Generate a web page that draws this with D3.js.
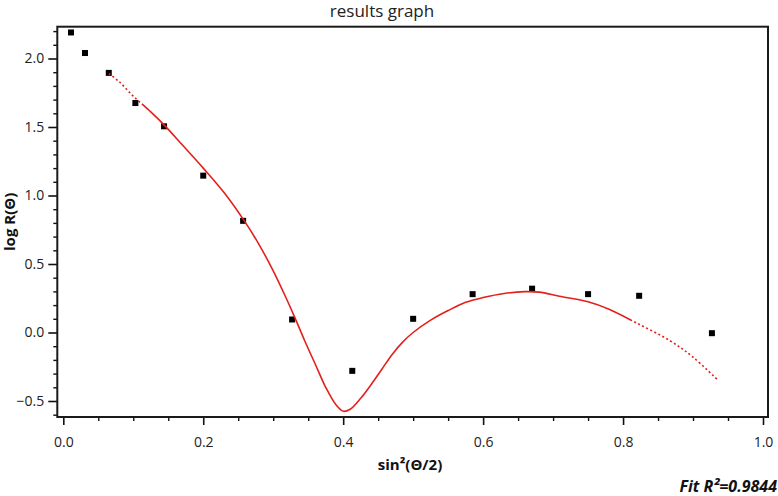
<!DOCTYPE html>
<html><head><meta charset="utf-8">
<script src="https://cdn.jsdelivr.net/npm/d3@7"></script>
<style>
html,body{margin:0;padding:0;background:#fff;}
svg{display:block;font-family:"Open Sans","Noto Sans",sans-serif;}
</style></head>
<body><svg id="chart" width="778" height="496"></svg>
<script>
// Data
const pointX = [0.011,0.031,0.065,0.103,0.144,0.200,0.257,0.327,0.413,0.500,0.585,0.670,0.750,0.823,0.927];
const pointY = [2.19,2.04,1.895,1.675,1.505,1.145,0.815,0.095,-0.28,0.10,0.28,0.32,0.28,0.268,-0.005];
const fitX = [0.065,0.08,0.10,0.125,0.145,0.17,0.20,0.23,0.258,0.28,0.30,0.315,0.33,0.345,0.36,0.375,0.39,0.40,0.41,0.425,0.44,0.455,0.47,0.485,0.50,0.525,0.55,0.575,0.60,0.63,0.66,0.68,0.709,0.75,0.78,0.819,0.867,0.90,0.936];
const fitY = [1.89,1.83,1.725,1.61,1.51,1.37,1.20,1.02,0.82,0.64,0.45,0.29,0.12,-0.06,-0.23,-0.40,-0.53,-0.575,-0.56,-0.48,-0.38,-0.27,-0.16,-0.07,0.0,0.09,0.16,0.22,0.255,0.285,0.298,0.295,0.265,0.225,0.17,0.07,-0.06,-0.18,-0.35];
const xTicks = [0.0,0.2,0.4,0.6,0.8,1.0];
const yTicks = [-0.5,0.0,0.5,1.0,1.5,2.0];
const titleText = "results graph";
const xLabelText = "sin²(Θ/2)";
const yLabelText = "log R(Θ)";
const fitText = "Fit R²=0.9844";

const svg = d3.select("#chart");
const L = 57.3, R = 768, T = 26.7, B = 417;
const x = d3.scaleLinear().domain([0,1]).range([63.3,763]);
const y = d3.scaleLinear().domain([-0.5,2.0]).range([401,58.5]);

// minor ticks
const xMinor = d3.range(0,1.0001,0.05).filter(v=>Math.abs(v/0.2-Math.round(v/0.2))>1e-6);
const yMinor = d3.range(-0.6,2.2501,0.1).filter(v=>Math.abs(v/0.5-Math.round(v/0.5))>1e-6 && y(v)>=T && y(v)<=B);

const ax = svg.append("g").attr("transform",`translate(0,${B})`)
  .call(d3.axisBottom(x).tickValues(xTicks).tickFormat(d3.format(".1f")).tickSize(8).tickPadding(12));
ax.select(".domain").remove();
ax.selectAll("line").attr("stroke","#111").attr("stroke-width",1.6);
ax.selectAll("text").attr("font-size",14).attr("fill","#222").attr("font-family","'Open Sans',sans-serif");
const axm = svg.append("g").attr("transform",`translate(0,${B})`)
  .call(d3.axisBottom(x).tickValues(xMinor).tickFormat("").tickSize(4));
axm.select(".domain").remove();
axm.selectAll("line").attr("stroke","#111").attr("stroke-width",1.4);

const ay = svg.append("g").attr("transform",`translate(${L},0)`)
  .call(d3.axisLeft(y).tickValues(yTicks).tickFormat(d3.format(".1f")).tickSize(9).tickPadding(4));
ay.select(".domain").remove();
ay.selectAll("line").attr("stroke","#111").attr("stroke-width",1.6);
ay.selectAll("text").attr("font-size",14).attr("fill","#222").attr("font-family","'Open Sans',sans-serif");
const aym = svg.append("g").attr("transform",`translate(${L},0)`)
  .call(d3.axisLeft(y).tickValues(yMinor).tickFormat("").tickSize(4));
aym.select(".domain").remove();
aym.selectAll("line").attr("stroke","#111").attr("stroke-width",1.4);

// frame
svg.append("rect").attr("x",L).attr("y",T).attr("width",R-L).attr("height",B-T)
  .attr("fill","none").attr("stroke","#1a1a1a").attr("stroke-width",2);

// points
const pts = pointX.map((v,i)=>[v,pointY[i]]);
svg.append("g").selectAll("rect").data(pts).join("rect")
  .attr("x",d=>x(d[0])-3).attr("y",d=>y(d[1])-3).attr("width",6).attr("height",6).attr("fill","#000");

// fit curve
const fit = fitX.map((v,i)=>[v,fitY[i]]);
const line = d3.line().x(d=>x(d[0])).y(d=>y(d[1])).curve(d3.curveCatmullRom.alpha(0.5));
const path = svg.append("path").datum(fit).attr("d",line)
  .attr("fill","none").attr("stroke","#e3201b").attr("stroke-width",1.6);
const node = path.node();
const total = node.getTotalLength();
function lenAtX(xv){
  const px = x(xv); let lo=0, hi=total;
  for(let k=0;k<40;k++){const m=(lo+hi)/2; if(node.getPointAtLength(m).x<px) lo=m; else hi=m;}
  return lo;
}
const l1 = lenAtX(0.11), l2 = lenAtX(0.81);
const parts = [];
let acc = 0;
while(acc < l1){parts.push(2,2.5); acc+=4.5;}
parts.push(l2-acc, 0);
acc = l2;
while(acc < total+10){parts.push(2,2.5); acc+=4.5;}
path.attr("stroke-dasharray", parts.join(" "));

// texts
svg.append("text").attr("x",382).attr("y",17).attr("text-anchor","middle")
  .attr("font-size",17).attr("fill","#222").text(titleText);
svg.append("text").attr("x",410).attr("y",470).attr("text-anchor","middle")
  .attr("font-size",15).attr("font-weight","bold").attr("fill","#111").text(xLabelText);
svg.append("text").attr("transform",`translate(15,${(T+B)/2}) rotate(-90)`).attr("text-anchor","middle")
  .attr("font-size",15).attr("font-weight","bold").attr("fill","#111").text(yLabelText);
svg.append("text").attr("x",777).attr("y",492).attr("text-anchor","end")
  .attr("font-size",16).attr("font-weight","bold").attr("font-style","italic").attr("fill","#111").text(fitText);
</script>
</body></html>
